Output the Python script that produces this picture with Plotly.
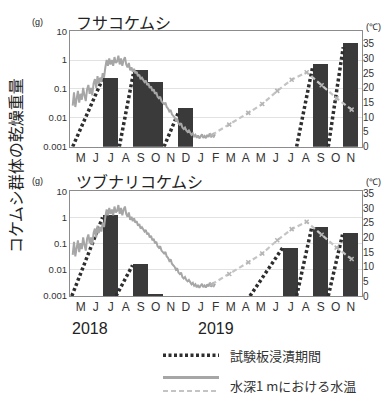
import numpy as np
import plotly.graph_objects as go

# ---------------- data ----------------
months = ["M", "J", "J", "A", "S", "O", "N", "D", "J", "F",
          "M", "A", "M", "J", "J", "A", "S", "O", "N"]  # May 2018 .. Nov 2019

# dry weight of colonies (g) per collection month (index into months)
fusa_idx = [2, 4, 5, 7, 16, 18]
fusa_val = [0.24, 0.45, 0.17, 0.021, 0.72, 3.8]
tsubu_idx = [2, 4, 5, 14, 16, 18]
tsubu_val = [1.2, 0.017, 0.00115, 0.069, 0.42, 0.25]

# immersion periods of test plates: start position (month units) -> collection
fusa_imm_start = [-0.54, 2.57, 5.55, 14.39, 16.5]
fusa_imm_end = [1.45, 3.5, 6.5, 15.45, 17.5]
fusa_imm_val = [0.22, 0.33, 0.015, 0.55, 2.8]
tsubu_imm_start = [-0.6, 2.35, 11.28, 14.39, 16.5]
tsubu_imm_end = [1.45, 3.45, 13.45, 15.4, 17.45]
tsubu_imm_val = [1.0, 0.015, 0.068, 0.42, 0.22]

# continuous water temperature at 1 m depth (deg C), May 2018 - Jan 2019
temp_cont = [14, 18.5, 13.5, 17, 19, 15, 18, 16, 20, 17.5,
             15.5, 19.5, 21, 18, 20, 17.5, 21.5, 23, 20, 24,
             21.5, 23.5,
             22, 25, 23.5, 27, 29.5, 27.5, 30,
             28, 29.5, 27.5, 30.5, 28.5, 29, 31, 28, 30, 27.5,
             29.5, 30.5, 28, 27, 28.5, 26, 27,
             25.5, 26.5, 25, 25.5, 24, 24.5, 23, 23.5, 22.5, 22,
             22.5, 21, 21.5, 20, 20.5, 19, 19.5, 18, 18.5, 17,
             16.5, 17, 15.5, 15, 14.5, 15, 13.5, 13, 12, 12.5,
             11, 10.5, 10, 9, 9.5, 8, 7.5, 8, 6.5, 6,
             6.5, 5.5, 5, 5.5, 4.5, 4, 4.5, 3.5, 4,
             3, 3.8, 2.8, 3.5, 4.2, 3, 3.6, 2.9, 4, 3.3,
             4.5, 3.2, 3.8, 3.4, 4.2]
temp_cont_pos = np.linspace(-0.54, 8.95, len(temp_cont))

# monthly measured water temperature, Feb - Nov 2019
temp_month_pos = [8.73, 9.9, 11.17, 12.1, 13.1, 14.06, 15.06, 16.06, 17.06, 18.06]
temp_month = [4.0, 7.5, 11.5, 14.5, 19, 22.8, 25.3, 20.9, 16.5, 12.6]

log_ticks = [0.001, 0.01, 0.1, 1, 10]
log_tick_text = ["0.001", "0.01", "0.1", "1", "10"]
temp_ticks = [0, 5, 10, 15, 20, 25, 30, 35]

# ---------------- figure ----------------
W, H = 389, 401
BAR = "#3a3a3a"
DOT = "#2e2e2e"
TLINE = "#a6a6a6"
TDASH = "#c4c4c4"
FONT = "Liberation Sans, Arial, sans-serif"
JFONT = "Noto Sans CJK JP"

fig = go.Figure()


def add_panel(idx, vals, imm_s, imm_e, imm_v, xa, ya, ya2):
    fig.add_trace(go.Bar(x=idx, y=vals, width=0.98, marker=dict(color=BAR, line=dict(width=0)),
                         xaxis=xa, yaxis=ya, showlegend=False, hoverinfo="skip"))
    for s, e, v in zip(imm_s, imm_e, imm_v):
        fig.add_trace(go.Scatter(x=[s, e], y=[0.001, v], mode="lines",
                                 line=dict(color=DOT, width=3.5, dash="3px,2.5px"),
                                 xaxis=xa, yaxis=ya, showlegend=False, hoverinfo="skip"))
    fig.add_trace(go.Scatter(x=temp_cont_pos, y=temp_cont, mode="lines",
                             line=dict(color=TLINE, width=2),
                             xaxis=xa, yaxis=ya2, showlegend=False, hoverinfo="skip"))
    fig.add_trace(go.Scatter(x=temp_month_pos, y=temp_month, mode="lines+markers",
                             line=dict(color=TDASH, width=2.2, dash="5px,3px"),
                             marker=dict(color="#b5b5b5", size=4, symbol="x-thin",
                                         line=dict(color="#b5b5b5", width=1.5)),
                             xaxis=xa, yaxis=ya2, showlegend=False, hoverinfo="skip"))


add_panel(fusa_idx, fusa_val, fusa_imm_start, fusa_imm_end, fusa_imm_val, "x", "y", "y2")
add_panel(tsubu_idx, tsubu_val, tsubu_imm_start, tsubu_imm_end, tsubu_imm_val, "x2", "y3", "y4")

xdom = [70 / W, 362 / W]
top_dom = [1 - 145 / H, 1 - 26 / H]
bot_dom = [1 - 299 / H, 1 - 191 / H]

xcommon = dict(domain=xdom, range=[-0.72, 18.75], tickmode="array",
               tickvals=list(range(len(months))), ticktext=months,
               showline=True, mirror=True, linecolor="#8c8c8c", linewidth=1,
               showgrid=False, zeroline=False, ticks="",
               tickfont=dict(family=FONT, size=12, color="#333"))
ylog = dict(type="log", range=[-3, 1], tickmode="array", tickvals=log_ticks,
            ticktext=log_tick_text, showgrid=True, gridcolor="#e2e2e2", gridwidth=1,
            showline=True, mirror=True, linecolor="#8c8c8c", linewidth=1,
            zeroline=False, ticks="", tickfont=dict(family=FONT, size=9.5, color="#333"))
ytemp = dict(side="right", tickmode="array", tickvals=temp_ticks,
             showgrid=False, zeroline=False, showline=False, ticks="",
             tickfont=dict(family=FONT, size=10, color="#333"))

fig.update_layout(
    width=W, height=H, margin=dict(l=0, r=0, t=0, b=0),
    paper_bgcolor="white", plot_bgcolor="white", bargap=0,
    xaxis=dict(anchor="y", **xcommon),
    yaxis=dict(domain=top_dom, anchor="x", **ylog),
    yaxis2=dict(overlaying="y", anchor="x", range=[0, 39.3], **ytemp),
    xaxis2=dict(anchor="y3", **xcommon),
    yaxis3=dict(domain=bot_dom, anchor="x2", **ylog),
    yaxis4=dict(overlaying="y3", anchor="x2", range=[0, 35.7], **ytemp),
)


def ann(text, x, y, size, family=FONT, xanchor="center", yanchor="middle", angle=0, color="#222"):
    fig.add_annotation(text=text, x=x / W, y=1 - y / H, xref="paper", yref="paper",
                       showarrow=False, xanchor=xanchor, yanchor=yanchor, textangle=angle,
                       font=dict(family=family, size=size, color=color))


ann("(g)", 37, 16, 9)
ann("フサコケムシ", 74, 16, 16, family=JFONT, xanchor="left")
ann("(℃)", 373, 22, 9)
ann("(g)", 37, 180, 9)
ann("ツブナリコケムシ", 74, 180, 16, family=JFONT, xanchor="left")
ann("(℃)", 373, 181, 9)
ann("コケムシ群体の乾燥重量", 15, 165, 16, family=JFONT, angle=-90)
ann("2018", 90, 332, 16)
ann("2019", 216, 332, 16)

# legend
fig.add_shape(type="line", xref="paper", yref="paper", x0=163 / W, x1=219 / W,
              y0=1 - 360 / H, y1=1 - 360 / H, line=dict(color=DOT, width=3.5, dash="3px,2.5px"))
fig.add_shape(type="line", xref="paper", yref="paper", x0=163 / W, x1=219 / W,
              y0=1 - 383 / H, y1=1 - 383 / H, line=dict(color=TLINE, width=3))
fig.add_shape(type="line", xref="paper", yref="paper", x0=163 / W, x1=219 / W,
              y0=1 - 397 / H, y1=1 - 397 / H, line=dict(color=TDASH, width=2, dash="5px,3px"))
ann("試験板浸漬期間", 228, 360, 13, family=JFONT, xanchor="left", color="#333")
ann("水深1 mにおける水温", 228, 391, 13, family=JFONT, xanchor="left", color="#333")

fig.write_html("out.html")
